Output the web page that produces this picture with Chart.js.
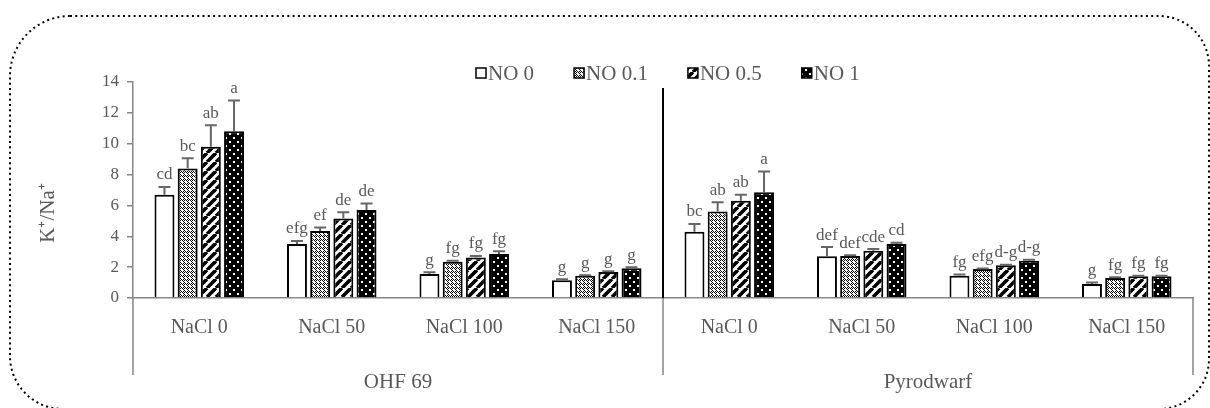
<!DOCTYPE html>
<html>
<head>
<meta charset="utf-8">
<script src="https://cdn.jsdelivr.net/npm/chart.js@4.4.0/dist/chart.umd.min.js"></script>
<style>
    html, body { margin: 0; padding: 0; background: #fff; }
    #wrap { width: 1210px; height: 408px; position: relative; }
</style>
</head>
<body>
<div id="wrap"><canvas id="chart"></canvas></div>
<script>
// Categories and groups
const categories = ['NaCl 0', 'NaCl 50', 'NaCl 100', 'NaCl 150', 'NaCl 0', 'NaCl 50', 'NaCl 100', 'NaCl 150'];
const groups = ['OHF 69', 'Pyrodwarf'];
const seriesNames = ['NO 0', 'NO 0.1', 'NO 0.5', 'NO 1'];
const yTitle = 'K\u207A/Na\u207A';

// K+/Na+ means
const no0  = [6.7, 3.5, 1.55, 1.15, 4.3, 2.7, 1.45, 0.9];
const no01 = [8.4, 4.35, 2.35, 1.45, 5.6, 2.72, 1.88, 1.3];
const no05 = [9.8, 5.15, 2.63, 1.68, 6.3, 3.07, 2.12, 1.41];
const no1  = [10.8, 5.7, 2.85, 1.93, 6.85, 3.5, 2.42, 1.41];

// error bars (upper)
const err0  = [0.5, 0.2, 0.12, 0.06, 0.5, 0.6, 0.08, 0.1];
const err01 = [0.65, 0.22, 0.07, 0.03, 0.6, 0.05, 0.03, 0.04];
const err05 = [1.4, 0.4, 0.1, 0.05, 0.4, 0.1, 0.04, 0.04];
const err1  = [2.0, 0.43, 0.18, 0.06, 1.35, 0.08, 0.06, 0.03];

// significance letters
const letters0  = ['cd', 'efg', 'g', 'g', 'bc', 'def', 'fg', 'g'];
const letters01 = ['bc', 'ef', 'fg', 'g', 'ab', 'def', 'efg', 'fg'];
const letters05 = ['ab', 'de', 'fg', 'g', 'ab', 'cde', 'd-g', 'fg'];
const letters1  = ['a', 'de', 'fg', 'g', 'a', 'cd', 'd-g', 'fg'];

const yMin = 0, yMax = 14, yStep = 2;

const FONT = "'Liberation Serif', 'Times New Roman', serif";
const TEXT = '#595959';
const AXIS = '#868686';

// Fill patterns
function makePattern(kind) {
    const c = document.createElement('canvas');
    const g = c.getContext('2d');
    if (kind === 'check') {
        c.width = 4; c.height = 4;
        g.fillStyle = '#fff';
        g.fillRect(0, 0, 4, 4);
        g.fillStyle = '#000';
        for (let i = 0; i < 4; i++) {
            for (let j = 0; j < 4; j++) {
                if ((i + j) % 2 === 0) g.fillRect(i, j, 1, 1);
            }
        }
        g.fillStyle = '#fff';
        g.fillRect(1, 1, 2, 2);
    } else if (kind === 'stripe') {
        const s = 9;
        c.width = s; c.height = s;
        g.fillStyle = '#fff';
        g.fillRect(0, 0, s, s);
        g.strokeStyle = '#000';
        g.lineWidth = 3.6;
        [-s, 0, s].forEach(o => {
            g.beginPath();
            g.moveTo(o, s);
            g.lineTo(o + s, 0);
            g.stroke();
        });
    } else if (kind === 'dots') {
        c.width = 8; c.height = 8;
        g.fillStyle = '#000';
        g.fillRect(0, 0, 8, 8);
        g.fillStyle = '#fff';
        g.fillRect(1, 1, 2, 2);
        g.fillRect(5, 5, 2, 2);
    }
    return g.createPattern(c, 'repeat');
}

const fills = ['#ffffff', makePattern('check'), makePattern('stripe'), makePattern('dots')];
const values = [no0, no01, no05, no1];
const errors = [err0, err01, err05, err1];
const letters = [letters0, letters01, letters05, letters1];

const datasets = seriesNames.map((name, i) => ({
    label: name,
    data: values[i],
    errors: errors[i],
    letters: letters[i],
    backgroundColor: fills[i],
    borderColor: '#000',
    borderWidth: 2,
    categoryPercentage: 0.7,
    barPercentage: 0.86
}));

// Error bars, letters, legend, frame, group labels
const extrasPlugin = {
    id: 'extras',
    afterDatasetsDraw(chart) {
        const ctx = chart.ctx;
        const yScale = chart.scales.y;
        ctx.save();
        chart.data.datasets.forEach((ds, i) => {
            const meta = chart.getDatasetMeta(i);
            meta.data.forEach((bar, j) => {
                const top = yScale.getPixelForValue(ds.data[j] + ds.errors[j]);
                ctx.strokeStyle = '#666';
                ctx.lineWidth = 2;
                ctx.beginPath();
                ctx.moveTo(bar.x, bar.y);
                ctx.lineTo(bar.x, top);
                ctx.moveTo(bar.x - 6, top);
                ctx.lineTo(bar.x + 6, top);
                ctx.stroke();

                ctx.fillStyle = TEXT;
                ctx.font = '17px ' + FONT;
                ctx.textAlign = 'center';
                ctx.textBaseline = 'middle';
                ctx.fillText(ds.letters[j], bar.x, top - 12);
            });
        });
        ctx.restore();
    },
    afterDraw(chart) {
        const ctx = chart.ctx;
        const area = chart.chartArea;
        const xScale = chart.scales.x;
        const bottomLine = 375;
        ctx.save();

        // vertical separators under the axis
        const mid = (xScale.getPixelForValue(3) + xScale.getPixelForValue(4)) / 2;
        ctx.strokeStyle = AXIS;
        ctx.lineWidth = 1.5;
        [area.left, mid, area.right].forEach(x => {
            ctx.beginPath();
            ctx.moveTo(x, area.bottom);
            ctx.lineTo(x, bottomLine);
            ctx.stroke();
        });
        ctx.strokeStyle = '#000';
        ctx.lineWidth = 2;
        ctx.beginPath();
        ctx.moveTo(mid, 88);
        ctx.lineTo(mid, area.bottom);
        ctx.stroke();

        // group labels
        ctx.fillStyle = TEXT;
        ctx.font = '21px ' + FONT;
        ctx.textAlign = 'center';
        ctx.textBaseline = 'middle';
        ctx.fillText(groups[0], (area.left + mid) / 2, 382);
        ctx.fillText(groups[1], (mid + area.right) / 2, 382);

        // y axis title, sits a little below the middle like the original
        ctx.save();
        ctx.translate(48, 213);
        ctx.rotate(-Math.PI / 2);
        ctx.font = '21px ' + FONT;
        ctx.fillText(yTitle, 0, 0);
        ctx.restore();

        // legend
        let lx = 476;
        const ly = 73;
        ctx.font = '21px ' + FONT;
        ctx.textAlign = 'left';
        chart.data.datasets.forEach(ds => {
            ctx.fillStyle = ds.backgroundColor;
            ctx.fillRect(lx, ly - 5, 10, 10);
            ctx.strokeStyle = '#000';
            ctx.lineWidth = 1.5;
            ctx.strokeRect(lx, ly - 5, 10, 10);
            ctx.fillStyle = TEXT;
            ctx.fillText(ds.label, lx + 12, ly + 1);
            lx += 12 + ctx.measureText(ds.label).width + 40;
        });

        // dotted rounded frame
        ctx.strokeStyle = '#000';
        ctx.lineWidth = 2;
        ctx.setLineDash([2, 3.3]);
        ctx.beginPath();
        ctx.roundRect(10, 16, 1199, 393, [60, 50, 50, 53]);
        ctx.stroke();
        ctx.restore();
    }
};

const chart = new Chart(document.getElementById('chart'), {
    type: 'bar',
    data: { labels: categories, datasets: datasets },
    plugins: [extrasPlugin],
    options: {
        responsive: true,
        maintainAspectRatio: false,
        animation: false,
        layout: { padding: { left: 0, right: 17, top: 82, bottom: 0 } },
        plugins: {
            legend: { display: false },
            tooltip: { enabled: false }
        },
        scales: {
            x: {
                grid: { display: false, drawTicks: false },
                border: { display: true, color: AXIS, width: 1.5 },
                ticks: {
                    font: { family: FONT, size: 20 },
                    color: TEXT,
                    padding: 18,
                    maxRotation: 0,
                    autoSkip: false
                },
                afterFit: s => { s.height = 110; }
            },
            y: {
                min: yMin,
                max: yMax,
                grid: { display: true, drawOnChartArea: false, drawTicks: true, tickLength: 6, color: AXIS, lineWidth: 1.5 },
                border: { display: true, color: AXIS, width: 1.5 },
                ticks: {
                    stepSize: yStep,
                    font: { family: FONT, size: 17 },
                    color: TEXT,
                    padding: 8
                },
                afterFit: s => { s.width = 133; }
            }
        }
    }
});
</script>
</body>
</html>
